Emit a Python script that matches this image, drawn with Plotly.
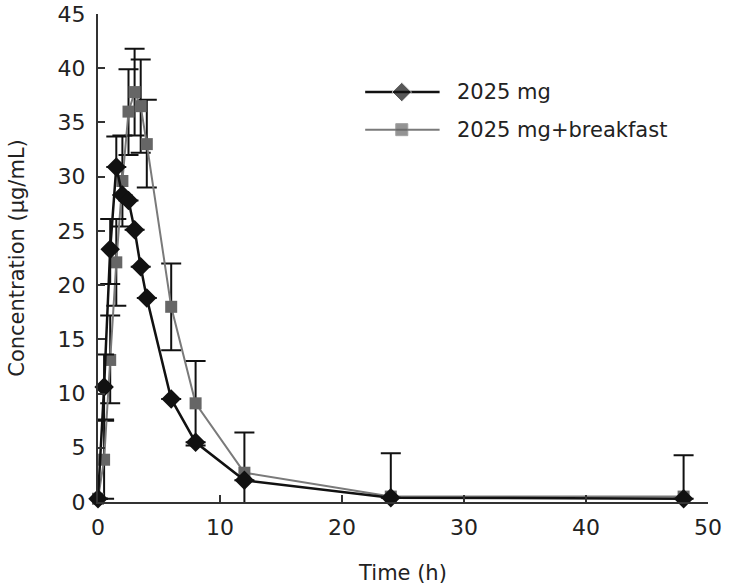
import plotly.graph_objects as go

# sampling times (h)
time_fasted = [0, 0.5, 1, 1.5, 2, 2.5, 3, 3.5, 4, 6, 8, 12, 24, 48]
time_fed = [0, 0.5, 1, 1.5, 2, 2.5, 3, 3.5, 4, 6, 8, 12, 24, 48]

# mean concentration (ug/mL)
conc_fasted = [0.3, 10.6, 23.3, 30.9, 28.3, 27.8, 25.1, 21.7, 18.8, 9.5, 5.5, 2.0, 0.4, 0.3]
conc_fed = [0.3, 3.9, 13.1, 22.1, 29.6, 36.0, 37.8, 36.5, 33.0, 18.0, 9.1, 2.7, 0.5, 0.5]

# SD bars
sd_fasted_up = [None, 3.0, 2.8, 2.8, None, None, None, None, None, None, None, None, None, None]
sd_fasted_down = [None, 3.0, 3.2, None, None, None, None, None, None, None, None, None, None, None]
sd_fed_up = [None, 3.6, 4.1, 4.0, 4.2, 3.9, 4.0, 4.3, 4.1, 4.0, 3.9, 3.7, 4.0, 3.8]
sd_fed_down = [None, 3.6, 4.0, 4.0, 4.2, 4.0, 4.0, 4.3, 4.0, 4.0, 3.9, 3.2, 1.0, 1.0]

series_names = ['2025 mg', '2025 mg+breakfast']

FONT = "DejaVu Sans"
TXT = '#222222'
BLACK = '#111111'
GREY_LINE = '#7a7a7a'
GREY_MARK = '#666666'

fig = go.Figure()

fig.add_trace(go.Scatter(
    x=time_fed, y=conc_fed,
    name=series_names[1],
    mode='lines+markers',
    line=dict(color=GREY_LINE, width=2),
    marker=dict(symbol='square', size=12, color=GREY_MARK),
    error_y=dict(type='data', symmetric=False, array=sd_fed_up, arrayminus=sd_fed_down,
                 color=BLACK, thickness=2, width=10),
    cliponaxis=False, showlegend=False,
))

fig.add_trace(go.Scatter(
    x=time_fasted, y=conc_fasted,
    name=series_names[0],
    mode='lines+markers',
    line=dict(color=BLACK, width=2.5),
    marker=dict(symbol='diamond', size=15, color=BLACK),
    error_y=dict(type='data', symmetric=False, array=sd_fasted_up, arrayminus=sd_fasted_down,
                 color=BLACK, thickness=2, width=10),
    cliponaxis=False, showlegend=False,
))

# hand-drawn legend (long sample lines like the original)
legend_rows = [
    dict(name=series_names[0], y=0.84, line=dict(color=BLACK, width=2.5),
         marker=dict(symbol='diamond', size=[0, 15, 0], color=BLACK)),
    dict(name=series_names[1], y=0.763, line=dict(color=GREY_LINE, width=2),
         marker=dict(symbol='square', size=[0, 12, 0], color=GREY_MARK)),
]
for row in legend_rows:
    fig.add_trace(go.Scatter(
        x=[0.438, 0.498, 0.56], y=[row['y']] * 3,
        xaxis='x2', yaxis='y2', mode='lines+markers',
        line=row['line'], marker=row['marker'],
        showlegend=False, hoverinfo='skip', cliponaxis=False,
    ))
    fig.add_annotation(
        x=0.585, y=row['y'], xref='paper', yref='paper',
        xanchor='left', yanchor='middle', showarrow=False,
        text=row['name'], font=dict(size=21, family=FONT, color=TXT),
    )

axis_common = dict(
    ticks='inside', ticklen=7, tickwidth=1.5, tickcolor='#333',
    showline=True, linecolor='#333', linewidth=2,
    showgrid=False, zeroline=False, automargin=False,
    ticklabeloverflow='allow',
    tickfont=dict(size=22, family=FONT, color=TXT),
)

fig.update_layout(
    template='none',
    width=729, height=585,
    margin=dict(l=98, r=21, t=14, b=83),
    plot_bgcolor='white', paper_bgcolor='white',
    font=dict(family=FONT, color=TXT),
    showlegend=False,
    xaxis=dict(
        range=[0, 50], tickvals=[0, 10, 20, 30, 40, 50],
        title=dict(text='Time (h)', font=dict(size=21, family=FONT, color=TXT), standoff=26),
        ticklabelstandoff=5,
        **axis_common,
    ),
    yaxis=dict(
        range=[0, 45], tickvals=list(range(0, 46, 5)),
        title=dict(text='Concentration (μg/mL)', font=dict(size=21, family=FONT, color=TXT), standoff=27),
        ticklabelstandoff=6,
        **axis_common,
    ),
    xaxis2=dict(overlaying='x', range=[0, 1], visible=False),
    yaxis2=dict(overlaying='y', range=[0, 1], visible=False),
)

# drop the default 8px page margin so the figure sits at the window origin
fig.write_html("out.html", config={'displayModeBar': False},
               post_script="document.body.style.margin='0';")
